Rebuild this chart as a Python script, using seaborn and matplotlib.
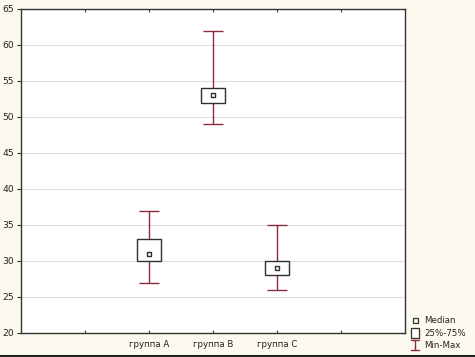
import matplotlib
matplotlib.use("Agg")
import matplotlib.pyplot as plt
import seaborn as sns
import pandas as pd
from matplotlib.patches import Rectangle
from matplotlib.lines import Line2D

groups = ["группа A", "группа B", "группа C"]
positions = [2, 3, 4]
medians = [31, 53, 29]
q25 = [30, 52, 28]
q75 = [33, 54, 30]
mins = [27, 49, 26]
maxs = [37, 62, 35]
yticks = [20, 25, 30, 35, 40, 45, 50, 55, 60, 65]
legend_labels = ["Median", "25%-75%", "Min-Max"]

sns.set_style("white")
plt.rcParams['font.family'] = ['DejaVu Sans']

bg = "#fcfaee"
wcol = "#8a2b3e"
bcol = "#303030"
fs = 6.2

fig = plt.figure(figsize=(4.75, 3.57), dpi=100, facecolor=bg)
ax = fig.add_axes([21/475, 24/357, 384/475, 324/357])
ax.set_facecolor("white")

df = pd.DataFrame({"pos": positions, "median": medians})

box_w = 0.39
cap_w = 0.30
for p, lo, hi, a, b in zip(positions, mins, maxs, q25, q75):
    ax.vlines(p, lo, a, color=wcol, lw=1.0, zorder=2)
    ax.vlines(p, b, hi, color=wcol, lw=1.0, zorder=2)
    ax.hlines([lo, hi], p - cap_w/2, p + cap_w/2, color=wcol, lw=1.0, zorder=2)
    ax.add_patch(Rectangle((p - box_w/2, a), box_w, b - a, facecolor="white",
                           edgecolor=bcol, lw=1.0, zorder=3))

sns.scatterplot(data=df, x="pos", y="median", marker="s", s=10, facecolor="white",
                edgecolor=bcol, linewidth=1.0, ax=ax, zorder=4, legend=False)

ax.set_xlim(0, 6)
ax.set_ylim(20, 65)
ax.set_yticks(yticks)
ax.set_yticklabels([str(v) for v in yticks], fontsize=fs + 0.5)
ax.set_xticks([1, 2, 3, 4, 5])
ax.set_xticklabels(["", groups[0], groups[1], groups[2], ""], fontsize=fs)
ax.set_xlabel("")
ax.set_ylabel("")
ax.grid(axis="y", color="#dcdcdc", lw=0.8)
ax.set_axisbelow(True)
for s in ax.spines.values():
    s.set_color("#333333")
    s.set_linewidth(1.0)
ax.tick_params(axis="y", direction="out", length=3, width=0.8, left=True, pad=2, colors="#333333", labelcolor="#222222")
ax.tick_params(axis="x", direction="in", length=2, width=0.8, bottom=True, top=True, pad=5, colors="#333333", labelcolor="#222222")

# manual legend in figure pixel coordinates
W, H = 475, 357
def fx(x): return x / W
def fy(y): return 1 - y / H

# median marker
fig.add_artist(Rectangle((fx(412.5), fy(323)), 5/W, 5/H, transform=fig.transFigure,
                         facecolor="white", edgecolor=bcol, lw=0.9))
fig.text(fx(424), fy(320.5), legend_labels[0], fontsize=fs, va="center", ha="left", color="#222222")
# box marker
fig.add_artist(Rectangle((fx(411), fy(338)), 8/W, 10/H, transform=fig.transFigure,
                         facecolor="white", edgecolor=bcol, lw=0.9))
fig.text(fx(424), fy(333), legend_labels[1], fontsize=fs, va="center", ha="left", color="#222222")
# min-max marker
for seg in [([411, 419], [340, 340]), ([415, 415], [340, 350]), ([411, 419], [350, 350])]:
    fig.add_artist(Line2D([fx(v) for v in seg[0]], [fy(v) for v in seg[1]],
                          transform=fig.transFigure, color=wcol, lw=1.0))
fig.text(fx(424), fy(345.5), legend_labels[2], fontsize=fs, va="center", ha="left", color="#222222")

fig.add_artist(Line2D([0, 1], [0.004, 0.004], transform=fig.transFigure, color="#222222", lw=1.5))

fig.savefig("out.png", dpi=100, facecolor=bg)
